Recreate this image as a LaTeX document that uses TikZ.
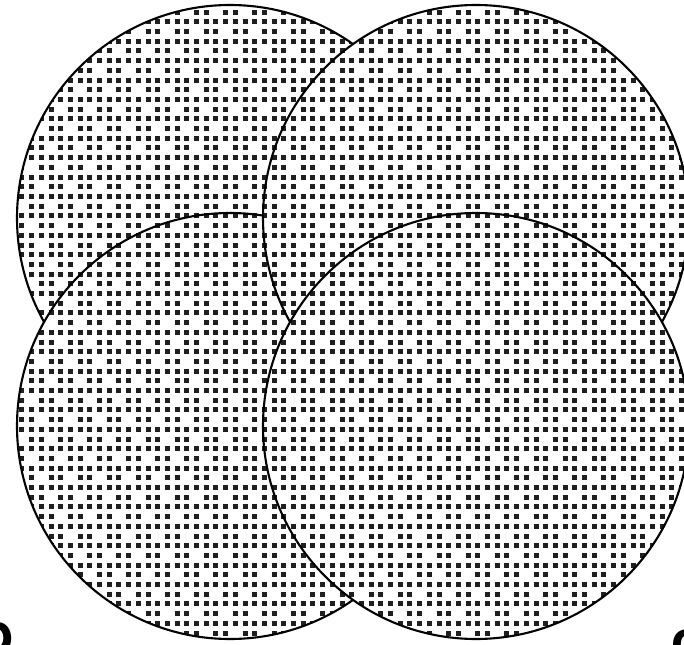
\documentclass[tikz,border=0pt]{standalone}
\usepackage{fontspec}
\setsansfont{TeX Gyre Heros}
\begin{document}
\begin{tikzpicture}[x=1pt,y=-1pt,
  outline/.style={draw=black, line width=2.1pt},
  dotrow/.style={line width=5pt, black!88},
  lbl/.style={font=\sffamily\bfseries\fontsize{56}{56}\selectfont, inner sep=0pt, anchor=base west}]
\useasboundingbox (0,0) rectangle (684,644);
\coordinate (tl) at (230,218);
\coordinate (bl) at (230,426);
\coordinate (tr) at (476,218);
\coordinate (br) at (476,426);
\def\rr{213pt}
\foreach \c in {tl,bl,tr,br}{
  \begin{scope}
    \clip (\c) circle[radius=\rr];
    \fill[white] (\c) circle[radius=\rr];
    \foreach \j in {0,...,66}{
      \pgfmathsetmacro\yy{2.5+\j*9.7}
      \pgfmathtruncatemacro\odd{mod(\j,2)}
      \pgfmathsetmacro\ph{mod(\j,3)*9.7}
      \ifnum\odd=0
        \draw[dotrow, dash pattern=on 5pt off 4.7pt] (0,\yy) -- (690,\yy);
      \else
        \draw[dotrow, dash pattern=on 5pt off 4.7pt on 5pt off 14.4pt, dash phase=\ph pt] (0,\yy) -- (690,\yy);
      \fi
    }
  \end{scope}
  \draw[outline] (\c) circle[radius=\rr];
}
\node[lbl] (lb) at (-21,653) {b};
\node[lbl] (lc) at (671,660) {c};
\end{tikzpicture}
\end{document}
